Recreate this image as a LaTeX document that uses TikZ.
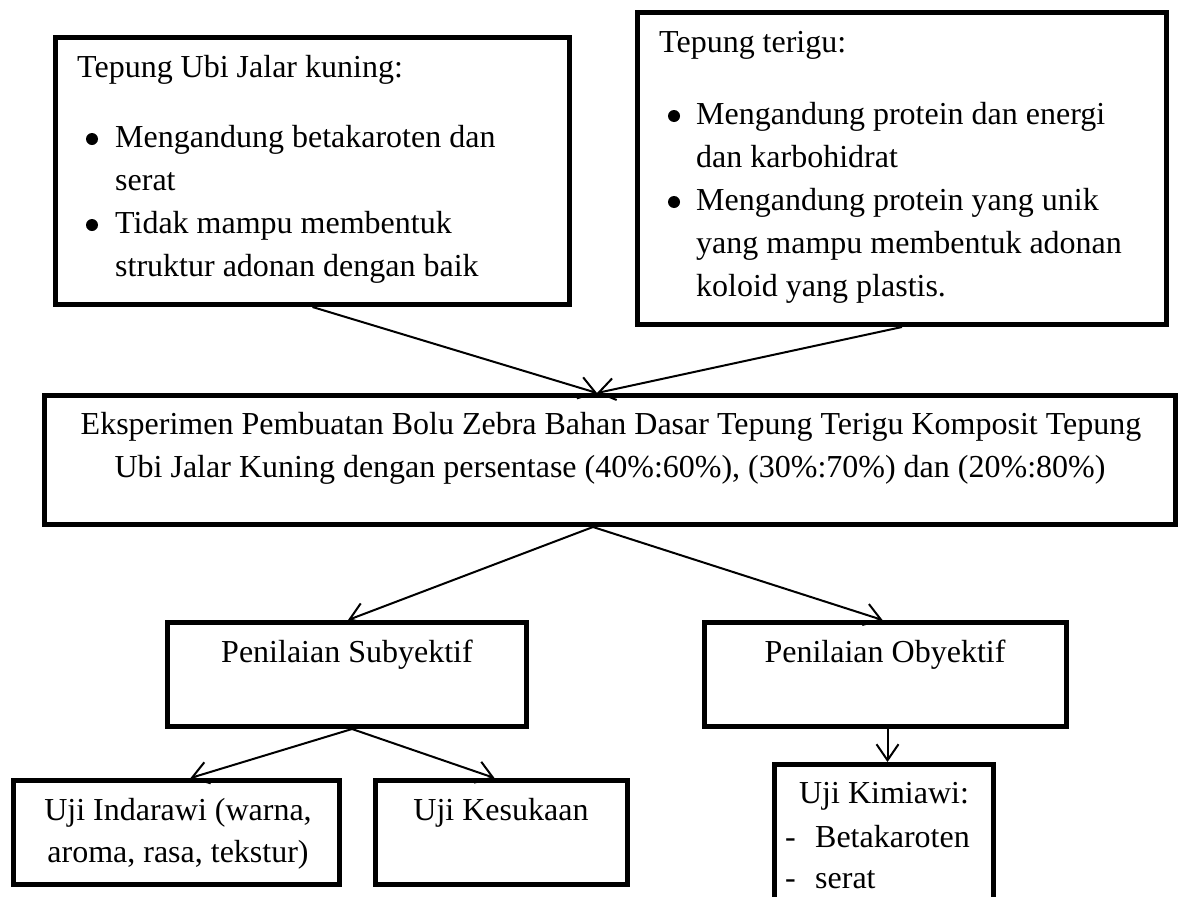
\documentclass[tikz,border=0pt]{standalone}
\usepackage{fontspec}
\setmainfont{Liberation Serif}
\usetikzlibrary{arrows.meta}
\newcommand\mydash{\makebox[30pt][l]{-}}
\begin{document}
\begin{tikzpicture}[x=1pt,y=-1pt,
  box/.style={draw, line width=5pt, rectangle, inner sep=0pt},
  conn/.style={line width=2pt, -{Straight Barb[length=16pt,width=22pt]}},
  txt/.style={inner sep=0pt, anchor=base west, font=\fontsize{32}{43}\selectfont},
  ctxt/.style={txt, anchor=base},
  bul/.style={fill=black}]
\fill[white] (0,0) rectangle (1181,897);
\useasboundingbox (0,0) rectangle (1181,897);
\clip (0,0) rectangle (1181,897);

% boxes
\node[box, minimum width=514pt, minimum height=267pt] (b1) at (312.5,171) {};
\node[box, minimum width=529pt, minimum height=312pt] (b2) at (902,168.5) {};
\node[box, minimum width=1131pt, minimum height=129pt] (main) at (610,460) {};
\node[box, minimum width=359pt, minimum height=104pt] (subj) at (347,674.5) {};
\node[box, minimum width=362pt, minimum height=104pt] (obj) at (885.5,674.5) {};
\node[box, minimum width=326pt, minimum height=104pt] (ind) at (176.5,832.5) {};
\node[box, minimum width=252pt, minimum height=104pt] (kes) at (501.5,832.5) {};
\node[box, minimum width=219pt, minimum height=193pt] (kim) at (884,861) {};

% texts box 1
\node[txt] (b1t) at (77,77) {Tepung Ubi Jalar kuning:};
\fill[bul] (92,139) circle[radius=6];
\node[txt] (b1a) at (115,147) {Mengandung betakaroten dan};
\node[txt] (b1b) at (115,190) {serat};
\fill[bul] (92,225) circle[radius=6];
\node[txt] (b1c) at (115,233) {Tidak mampu membentuk};
\node[txt] (b1d) at (115,276) {struktur adonan dengan baik};

% texts box 2
\node[txt] (b2t) at (659,52) {Tepung terigu:};
\fill[bul] (674,116) circle[radius=6];
\node[txt] (b2a) at (696,124) {Mengandung protein dan energi};
\node[txt] (b2b) at (696,167) {dan karbohidrat};
\fill[bul] (674,202) circle[radius=6];
\node[txt] (b2c) at (696,210) {Mengandung protein yang unik};
\node[txt] (b2d) at (696,253) {yang mampu membentuk adonan};
\node[txt] (b2e) at (696,296) {koloid yang plastis.};

% main
\node[ctxt] (m1) at (611,434) {Eksperimen Pembuatan Bolu Zebra Bahan Dasar Tepung Terigu Komposit Tepung};
\node[ctxt] (m2) at (610,477) {Ubi Jalar Kuning dengan persentase (40\%:60\%), (30\%:70\%) dan (20\%:80\%)};

% second level
\node[ctxt] (st) at (347,662) {Penilaian Subyektif};
\node[ctxt] (ot) at (885,662) {Penilaian Obyektif};

% third level
\node[ctxt] (it1) at (178,820) {Uji Indarawi (warna,};
\node[ctxt] (it2) at (178,862) {aroma, rasa, tekstur)};
\node[ctxt] (kt) at (501,820) {Uji Kesukaan};
\node[ctxt] (kmt) at (884,803) {Uji Kimiawi:};
\node[txt] (km1) at (785,847) {\mydash Betakaroten};
\node[txt] (km2) at (785,888) {\mydash serat};

% connectors
\draw[conn] (b1.south) -- ([xshift=-13pt]main.north);
\draw[conn] (b2.south) -- ([xshift=-13pt]main.north);
\draw[conn] ([xshift=-17pt]main.south) -- ([xshift=1pt]subj.north);
\draw[conn] ([xshift=-17pt]main.south) -- ([xshift=-3pt]obj.north);
\draw[conn] ([xshift=5pt]subj.south) -- ([xshift=14pt]ind.north);
\draw[conn] ([xshift=5pt]subj.south) -- ([xshift=-7pt]kes.north);
\draw[conn] ([xshift=2pt]obj.south) -- ([xshift=2pt]obj.south |- kim.north);
\end{tikzpicture}
\end{document}
